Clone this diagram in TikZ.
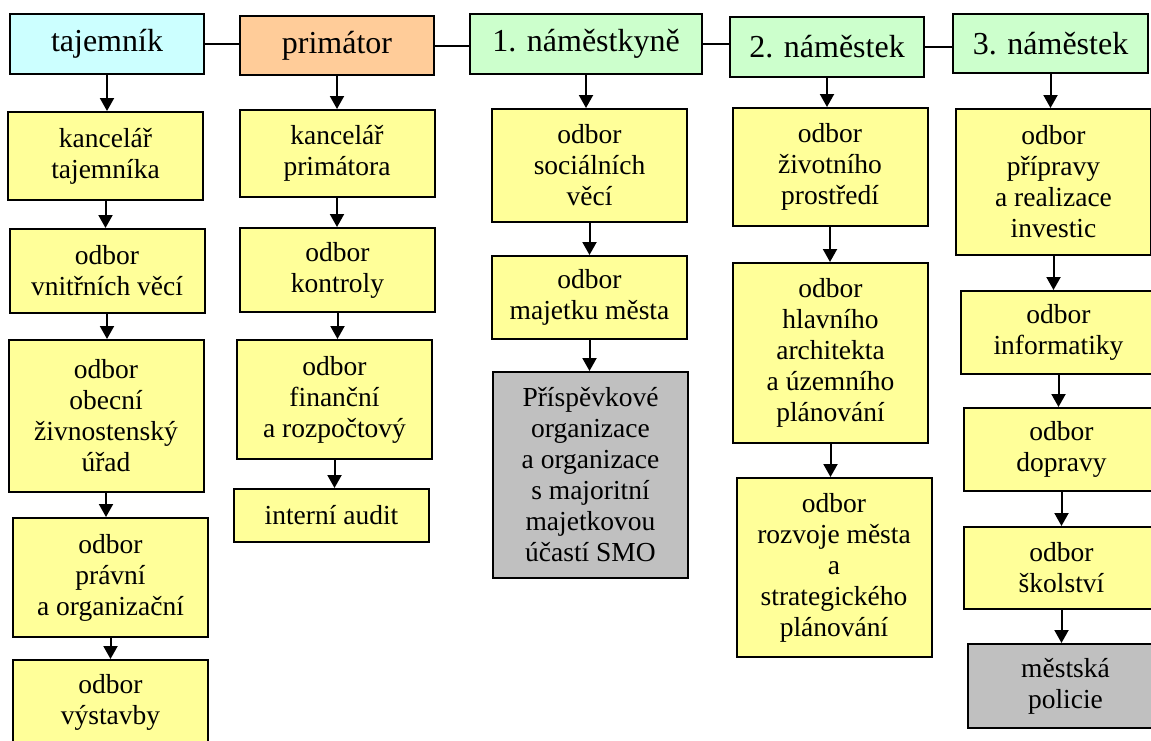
\documentclass[tikz,border=0pt]{standalone}
\usepackage{fontspec}
\setmainfont{Liberation Serif}
\usetikzlibrary{arrows.meta}
\definecolor{azurova}{HTML}{CCFFFF}
\definecolor{oranzova}{HTML}{FFCC99}
\definecolor{zelena}{HTML}{CCFFCC}
\definecolor{zluta}{HTML}{FFFF99}
\definecolor{seda}{HTML}{C0C0C0}
\tikzset{
  vedeni/.style={draw, line width=2pt, minimum width=194pt, minimum height=60pt,
    inner sep=0pt, font=\fontsize{32}{36}\selectfont},
  odbor/.style={draw, line width=2pt, fill=zluta, minimum width=195pt, inner sep=0pt,
    align=center, font=\fontsize{27.5}{31}\selectfont},
  sipka/.style={line width=2pt, -{Triangle[width=14pt,length=13pt]}},
  spoj/.style={line width=2pt}
}
\begin{document}
\begin{tikzpicture}[x=1pt,y=-1pt]
    \useasboundingbox (0,0) rectangle (1151,740);

    % Vedení
    \node[vedeni,fill=azurova] (taj) at (107,44) {tajemník};
    \node[vedeni,fill=oranzova,minimum height=59pt] (prim) at (337,45.5) {primátor};
    \node[vedeni,fill=zelena,minimum width=232pt] (nam1) at (586,44) {1. náměstkyně};
    \node[vedeni,fill=zelena] (nam2) at (827,47) {2. náměstek};
    \node[vedeni,fill=zelena,minimum width=195pt,minimum height=59pt] (nam3) at (1050.5,43.5) {3. náměstek};

    \draw[spoj] (taj.east) -- (taj.east -| prim.west);
    \draw[spoj] (prim.east) -- (prim.east -| nam1.west);
    \draw[spoj] (nam1.east) -- (nam1.east -| nam2.west);
    \draw[spoj] (nam2.east) -- (nam2.east -| nam3.west);

    % tajemník
    \node[odbor,minimum height=88pt] (kt) at (105.5,156) {kancelář\\tajemníka};
    \node[odbor,minimum height=84pt] (vv) at (107,271) {odbor\\vnitřních věcí};
    \node[odbor,minimum height=152pt] (zu) at (106,416) {odbor\\obecní\\živnostenský\\úřad};
    \node[odbor,minimum height=119pt] (pao) at (110.5,577.5) {odbor\\právní\\a organizační};
    \node[odbor,minimum height=84pt] (vys) at (110.5,702) {odbor\\výstavby};

    % primátor
    \node[odbor,minimum height=87pt] (kp) at (337,153.5) {kancelář\\primátora};
    \node[odbor,minimum height=84pt] (kon) at (337.5,270) {odbor\\kontroly};
    \node[odbor,minimum height=119pt] (fin) at (334.5,399.5) {odbor\\finanční\\a rozpočtový};
    \node[odbor,minimum height=53pt] (aud) at (331.5,515.5) {interní audit};

    % 1. náměstkyně
    \node[odbor,minimum height=113pt] (sv) at (589.5,165.5) {odbor\\sociálních\\věcí};
    \node[odbor,minimum height=83pt] (mm) at (589.5,297.5) {odbor\\majetku města};
    \node[odbor,fill=seda,minimum height=206pt] (org) at (590.5,475)
        {Příspěvkové\\organizace\\a organizace\\s majoritní\\majetkovou\\účastí SMO};

    % 2. náměstek
    \node[odbor,minimum height=118pt] (zp) at (830,167) {odbor\\životního\\prostředí};
    \node[odbor,minimum height=180pt] (ha) at (830.5,353) {odbor\\hlavního\\architekta\\a územního\\plánování};
    \node[odbor,minimum height=179pt] (rm) at (834,567.5) {odbor\\rozvoje města\\a\\strategického\\plánování};

    % 3. náměstek
    \node[odbor,minimum height=146pt] (inv) at (1053.5,182) {odbor\\přípravy\\a realizace\\investic};
    \node[odbor,minimum height=83pt] (inf) at (1058.5,332.5) {odbor\\informatiky};
    \node[odbor,minimum height=83pt] (dop) at (1061.5,449.5) {odbor\\dopravy};
    \node[odbor,minimum height=82pt] (sko) at (1061.5,568) {odbor\\školství};
    \node[odbor,fill=seda,minimum height=84pt] (pol) at (1065.5,686) {městská\\policie};

    % šipky
    \foreach \a/\b in {taj/kt,kt/vv,vv/zu,zu/pao,pao/vys,
                       prim/kp,kp/kon,kon/fin,fin/aud,
                       nam1/sv,sv/mm,mm/org,
                       nam2/zp,zp/ha,ha/rm,
                       nam3/inv,inv/inf,inf/dop,dop/sko,sko/pol}
        \draw[sipka] (\a.south) -- (\a.south |- \b.north);
\end{tikzpicture}
\end{document}
